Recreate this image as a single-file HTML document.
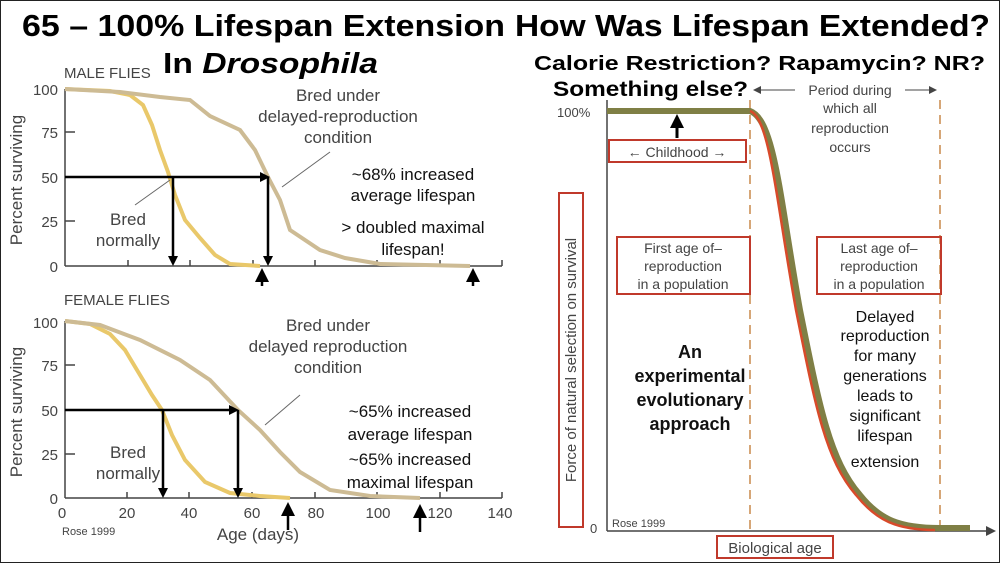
<!DOCTYPE html>
<html><head><meta charset="utf-8"><style>
html,body{margin:0;padding:0;background:#fff}
svg{display:block}
text{font-family:"Liberation Sans",sans-serif}
</style></head><body>
<svg width="1000" height="563" viewBox="0 0 1000 563" xmlns="http://www.w3.org/2000/svg">
<rect x="0.5" y="0.5" width="999" height="562" fill="#fff" stroke="#222" stroke-width="1"/>
<text x="22" y="36" font-size="31" font-weight="bold" textLength="483" lengthAdjust="spacingAndGlyphs">65 – 100% Lifespan Extension</text>
<text x="515" y="36" font-size="31" font-weight="bold" textLength="475" lengthAdjust="spacingAndGlyphs">How Was Lifespan Extended?</text>
<text x="163" y="73" font-size="29" font-weight="bold" textLength="215" lengthAdjust="spacingAndGlyphs">In <tspan font-style="italic">Drosophila</tspan></text>
<text x="534" y="70" font-size="20" font-weight="bold" textLength="451" lengthAdjust="spacingAndGlyphs">Calorie Restriction?  Rapamycin?  NR?</text>
<text x="553" y="96" font-size="21" font-weight="bold" textLength="195" lengthAdjust="spacingAndGlyphs">Something else?</text>
<text x="64" y="78" font-size="15" fill="#444">MALE FLIES</text>
<text x="64" y="305" font-size="15" fill="#444">FEMALE FLIES</text>

<!-- top chart -->
<g stroke="#444" stroke-width="1.5" fill="none">
<line x1="65" y1="89" x2="65" y2="266"/><line x1="65" y1="266" x2="502" y2="266"/>
<line x1="65" y1="132" x2="75" y2="132"/><line x1="65" y1="177" x2="75" y2="177"/><line x1="65" y1="221" x2="75" y2="221"/>
<line x1="128" y1="266" x2="128" y2="260"/><line x1="190" y1="266" x2="190" y2="260"/><line x1="253" y1="266" x2="253" y2="260"/><line x1="315" y1="266" x2="315" y2="260"/><line x1="377" y1="266" x2="377" y2="260"/><line x1="440" y1="266" x2="440" y2="260"/><line x1="502" y1="266" x2="502" y2="260"/>
</g>
<g font-size="15" fill="#444" text-anchor="end">
<text x="58" y="95">100</text><text x="58" y="138">75</text><text x="58" y="183">50</text><text x="58" y="227">25</text><text x="58" y="272">0</text>
</g>
<text transform="translate(22,180) rotate(-90)" font-size="17" fill="#444" text-anchor="middle">Percent surviving</text>
<path d="M65,89 L110,91 130,95 143,105 152,125 160,150 168,172 175,195 185,220 200,238 215,255 230,264 260,266" stroke="#e9c86a" stroke-width="4" fill="none"/>
<path d="M65,89 L120,92 160,97 190,100 210,116 240,130 255,150 268,177 280,200 290,230 320,250 345,258 380,264 470,266" stroke="#cdbb94" stroke-width="4" fill="none"/>
<g stroke="#000" stroke-width="2.5" fill="none">
<line x1="65" y1="177" x2="265" y2="177"/><line x1="173" y1="177" x2="173" y2="258"/><line x1="268" y1="177" x2="268" y2="258"/>
<line x1="262" y1="286" x2="262" y2="280"/><line x1="473" y1="286" x2="473" y2="280"/>
</g>
<g fill="#000"><polygon points="260,172 270,177 260,182"/><polygon points="168,256 173,266 178,256"/><polygon points="263,256 268,266 273,256"/>
<polygon points="255,282 262,268 269,282"/><polygon points="466,282 473,268 480,282"/></g>
<line x1="135" y1="205" x2="170" y2="180" stroke="#666"/>
<line x1="282" y1="187" x2="330" y2="152" stroke="#666"/>
<g font-size="17" fill="#444" text-anchor="middle">
<text x="128" y="225">Bred</text><text x="128" y="246">normally</text>
<text x="338" y="101">Bred under</text><text x="338" y="122">delayed-reproduction</text><text x="338" y="143">condition</text>
</g>
<g font-size="17" fill="#111" text-anchor="middle">
<text x="413" y="180">~68% increased</text><text x="413" y="201">average lifespan</text>
<text x="413" y="233">&gt; doubled maximal</text><text x="413" y="255">lifespan!</text>
</g>

<!-- bottom chart -->
<g stroke="#444" stroke-width="1.5" fill="none">
<line x1="65" y1="321" x2="65" y2="498"/><line x1="65" y1="498" x2="502" y2="498"/>
<line x1="65" y1="365" x2="75" y2="365"/><line x1="65" y1="410" x2="75" y2="410"/><line x1="65" y1="454" x2="75" y2="454"/>
<line x1="127" y1="498" x2="127" y2="492"/><line x1="189" y1="498" x2="189" y2="492"/><line x1="252" y1="498" x2="252" y2="492"/><line x1="315" y1="498" x2="315" y2="492"/><line x1="377" y1="498" x2="377" y2="492"/><line x1="440" y1="498" x2="440" y2="492"/><line x1="502" y1="498" x2="502" y2="492"/>
</g>
<g font-size="15" fill="#444" text-anchor="end">
<text x="58" y="328">100</text><text x="58" y="371">75</text><text x="58" y="416">50</text><text x="58" y="460">25</text><text x="58" y="504">0</text>
</g>
<g font-size="15" fill="#444" text-anchor="middle">
<text x="62" y="518">0</text><text x="127" y="518">20</text><text x="189" y="518">40</text><text x="252" y="518">60</text><text x="316" y="518">80</text><text x="378" y="518">100</text><text x="440" y="518">120</text><text x="500" y="518">140</text>
</g>
<text x="62" y="535" font-size="11" fill="#444">Rose 1999</text>
<text x="258" y="540" font-size="17" fill="#444" text-anchor="middle">Age (days)</text>
<text transform="translate(22,412) rotate(-90)" font-size="17" fill="#444" text-anchor="middle">Percent surviving</text>
<path d="M65,321 L90,324 110,334 125,350 140,375 152,395 162,410 172,435 185,460 205,482 230,493 260,496 290,498" stroke="#e9c86a" stroke-width="4" fill="none"/>
<path d="M65,321 L100,325 140,340 180,360 210,380 238,410 260,430 280,452 300,472 330,490 370,496 420,498" stroke="#cdbb94" stroke-width="4" fill="none"/>
<g stroke="#000" stroke-width="2.5" fill="none">
<line x1="65" y1="410" x2="233" y2="410"/><line x1="163" y1="410" x2="163" y2="490"/><line x1="238" y1="410" x2="238" y2="490"/>
<line x1="288" y1="530" x2="288" y2="514"/><line x1="420" y1="532" x2="420" y2="516"/>
</g>
<g fill="#000"><polygon points="229,405 239,410 229,415"/><polygon points="158,488 163,498 168,488"/><polygon points="233,488 238,498 243,488"/>
<polygon points="281,516 288,502 295,516"/><polygon points="413,518 420,504 427,518"/></g>
<line x1="265" y1="425" x2="300" y2="395" stroke="#666"/>
<g font-size="17" fill="#444" text-anchor="middle">
<text x="128" y="458">Bred</text><text x="128" y="479">normally</text>
<text x="328" y="331">Bred under</text><text x="328" y="352">delayed reproduction</text><text x="328" y="373">condition</text>
</g>
<g font-size="17" fill="#111" text-anchor="middle">
<text x="410" y="417">~65% increased</text><text x="410" y="440">average lifespan</text>
<text x="410" y="465">~65% increased</text><text x="410" y="488">maximal lifespan</text>
</g>

<!-- right chart -->
<line x1="607" y1="100" x2="607" y2="531" stroke="#444" stroke-width="1.5"/>
<line x1="607" y1="531" x2="990" y2="531" stroke="#444" stroke-width="1.5"/>
<polygon points="986,526 996,531 986,536" fill="#444"/>
<text x="557" y="117" font-size="13" fill="#444">100%</text>
<text x="590" y="533" font-size="13" fill="#444">0</text>
<text x="612" y="527" font-size="11" fill="#444">Rose 1999</text>
<g stroke="#c8884a" stroke-width="1.5" stroke-dasharray="9,6"><line x1="750" y1="100" x2="750" y2="531"/><line x1="940" y1="100" x2="940" y2="531"/></g>
<path d="M607,111 L750,111 C775,120 780,200 800,310 C820,410 830,460 860,495 C880,520 900,528 940,528 L970,528" stroke="#7f7f45" stroke-width="6" fill="none"/>
<path d="M750,111 C770,118 776,200 796,310 C816,410 826,460 856,495 C876,520 896,530 935,530" stroke="#d84a2a" stroke-width="2.5" fill="none"/>
<line x1="677" y1="138" x2="677" y2="126" stroke="#000" stroke-width="3"/><polygon points="670,128 677,114 684,128" fill="#000"/>
<rect x="609" y="140" width="137" height="22" fill="none" stroke="#c0392b" stroke-width="2"/>
<text x="677" y="157" font-size="14" fill="#444" text-anchor="middle">← Childhood →</text>
<line x1="760" y1="90" x2="795" y2="90" stroke="#444"/><polygon points="753,90 761,86 761,94" fill="#444"/>
<line x1="905" y1="90" x2="930" y2="90" stroke="#444"/><polygon points="937,90 929,86 929,94" fill="#444"/>
<g font-size="14" fill="#444" text-anchor="middle">
<text x="850" y="95">Period during</text><text x="850" y="113">which all</text><text x="850" y="133">reproduction</text><text x="850" y="152">occurs</text>
</g>
<rect x="617" y="237" width="133" height="57" fill="none" stroke="#c0392b" stroke-width="2"/>
<rect x="817" y="237" width="124" height="57" fill="none" stroke="#c0392b" stroke-width="2"/>
<g font-size="14" fill="#444" text-anchor="middle">
<text x="683" y="253">First age of–</text><text x="683" y="271">reproduction</text><text x="683" y="289">in a population</text>
<text x="879" y="253">Last age of–</text><text x="879" y="271">reproduction</text><text x="879" y="289">in a population</text>
</g>
<g font-size="18" font-weight="bold" fill="#111" text-anchor="middle">
<text x="690" y="358">An</text><text x="690" y="382">experimental</text><text x="690" y="406">evolutionary</text><text x="690" y="430">approach</text>
</g>
<g font-size="16" fill="#111" text-anchor="middle">
<text x="885" y="322">Delayed</text><text x="885" y="341">reproduction</text><text x="885" y="361">for many</text><text x="885" y="381">generations</text><text x="885" y="401">leads to</text><text x="885" y="421">significant</text><text x="885" y="441">lifespan</text><text x="885" y="467">extension</text>
</g>
<rect x="559" y="193" width="24" height="334" fill="none" stroke="#c0392b" stroke-width="2"/>
<text transform="translate(576,360) rotate(-90)" font-size="15" fill="#444" text-anchor="middle">Force of natural selection on survival</text>
<rect x="717" y="536" width="116" height="22" fill="none" stroke="#c0392b" stroke-width="2"/>
<text x="775" y="553" font-size="15" fill="#444" text-anchor="middle">Biological age</text>
</svg>
</body></html>
